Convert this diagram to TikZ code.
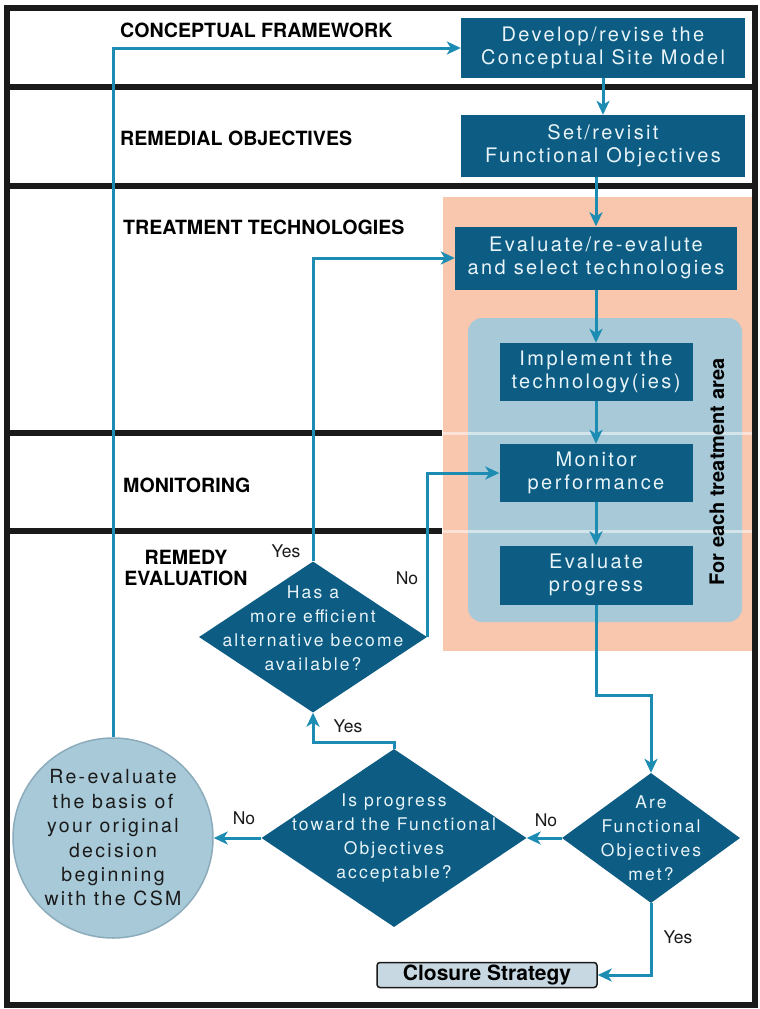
\documentclass[tikz,border=0pt]{standalone}
\usepackage{fontspec}
\setmainfont{TeX Gyre Heros}
\newfontfamily\spacedfont[LetterSpace=12]{TeX Gyre Heros}
\usetikzlibrary{shapes.geometric, arrows.meta}

\definecolor{boxblue}{RGB}{12,92,132}
\definecolor{flowblue}{RGB}{28,140,178}
\definecolor{areapink}{RGB}{249,198,174}
\definecolor{arealight}{RGB}{168,201,215}
\definecolor{circleedge}{RGB}{140,172,188}
\definecolor{boxtext}{RGB}{232,244,248}
\definecolor{rulegray}{RGB}{26,26,26}
\definecolor{closurefill}{RGB}{200,216,226}

\begin{document}
\begin{tikzpicture}[x=1pt, y=-1pt]
        \useasboundingbox (0,0) rectangle (760,1009);
        % rows and treatment area
        \fill[white] (0,0) rectangle (760,1009);
        \fill[areapink] (443,197) rectangle (755,651);
        \fill[arealight, rounded corners=14pt] (468,318) rectangle (742,622);
        \draw[white, opacity=0.5, line width=3pt] (443,433) -- (755,433) (443,531) -- (755,531);
        \draw[rulegray, line width=6pt] (6,87) -- (754,87) (6,186) -- (754,186) (6,433) -- (442,433) (6,531) -- (442,531);
        \draw[rulegray, line width=6pt] (6.5,7.5) rectangle (754.5,1005);
        \begin{scope}[every node/.style={anchor=west, inner sep=0, font=\bfseries\fontsize{19.6}{21}\selectfont}]
            \node (RowCF) at (120,30) {CONCEPTUAL FRAMEWORK};
            \node (RowRO) at (120,138) {REMEDIAL OBJECTIVES};
            \node (RowTT) at (123,227) {TREATMENT TECHNOLOGIES};
            \node (RowMO) at (123,485) {MONITORING};
            \node[anchor=center, align=center] (RowRE) at (186,568) {REMEDY\\EVALUATION};
        \end{scope}
        \begin{scope}[every node/.style={fill=boxblue, text=boxtext, align=center, inner sep=0, font=\spacedfont\fontsize{20}{23}\selectfont}]
            \node[minimum width=284pt, minimum height=60pt] (Develop) at (603,48) {Develop/revise the\\Conceptual Site Model};
            \node[minimum width=284pt, minimum height=62pt] (Revisit) at (603,146) {Set/revisit\\Functional Objectives};
            \node[minimum width=282pt, minimum height=63pt] (Select) at (596,258) {Evaluate/re-evalute\\and select technologies};
            \node[minimum width=193pt, minimum height=58pt] (Implement) at (596,372) {Implement the\\technology(ies)};
            \node[minimum width=193pt, minimum height=58pt] (Monitor) at (596,473) {Monitor\\performance};
            \node[minimum width=193pt, minimum height=59pt] (Progress) at (596,575) {Evaluate\\progress};
        \end{scope}
        \node[rotate=90, inner sep=0, font=\bfseries\fontsize{20}{24}\selectfont] (EachArea) at (717,472) {For each treatment area};
        \begin{scope}[every node/.style={diamond, fill=boxblue, inner sep=0}, every label/.style={fill=none, text=boxtext, align=center, font=\spacedfont\fontsize{17.5}{24}\selectfont}]
            \node[minimum width=228pt, minimum height=151pt, label={[yshift=9pt]center:{Has a\\more efficient\\alternative become\\available?}}] (EfficientQ) at (313,637) {};
            \node[minimum width=265pt, minimum height=178pt, label={center:{Is progress\\toward the Functional\\Objectives\\acceptable?}}] (AcceptQ) at (394,838) {};
            \node[minimum width=178pt, minimum height=130pt, label={center:{Are\\Functional\\Objectives\\met?}}] (MetQ) at (651,838) {};
        \end{scope}
        \node[circle, fill=arealight, draw=circleedge, line width=1.5pt, minimum size=200pt, inner sep=0, align=center, text=rulegray, font=\spacedfont\fontsize{19.5}{24.4}\selectfont] (Reeval) at (113,838) {Re-evaluate\\the basis of\\your original\\decision\\beginning\\with the CSM};
        \node[draw=rulegray, line width=1.5pt, fill=closurefill, rounded corners=3pt, minimum width=220pt, minimum height=25pt, inner sep=0, font=\bfseries\fontsize{21}{24}\selectfont] (Closure) at (487,975) {Closure Strategy};
        \begin{scope}[every path/.style={flowblue, line width=3pt, ->, >={Stealth[length=14pt, width=13pt, inset=4pt]}}]
            \draw (Reeval.north) |- (Develop.west);
            \draw (Develop.south) -- (Revisit.north);
            \draw (Revisit.south -| Select.north) -- (Select.north);
            \draw (Select.south) -- (Implement.north);
            \draw (Implement.south) -- (Monitor.north);
            \draw (Monitor.south) -- (Progress.north);
            \draw (Progress.south) -- ++(0,91) -| (MetQ.north);
            \draw (MetQ.west) -- (AcceptQ.east);
            \draw (MetQ.south) |- (Closure.east);
            \draw (AcceptQ.west) -- (Reeval.east);
            \draw (AcceptQ.north) -- ++(0,-6) -| (EfficientQ.south);
            \draw (EfficientQ.north) |- (Select.west);
            \draw (EfficientQ.east) |- (Monitor.west);
        \end{scope}
        \begin{scope}[every node/.style={inner sep=0, text=rulegray, font=\fontsize{17.5}{20}\selectfont}]
            \node (YesEfficient) at (286,551) {Yes};
            \node (NoEfficient) at (407,578) {No};
            \node (YesAccept) at (348,726) {Yes};
            \node (NoAccept) at (244,818) {No};
            \node (NoMet) at (546,820) {No};
            \node (YesMet) at (678,937) {Yes};
        \end{scope}
    \end{tikzpicture}
\end{document}
